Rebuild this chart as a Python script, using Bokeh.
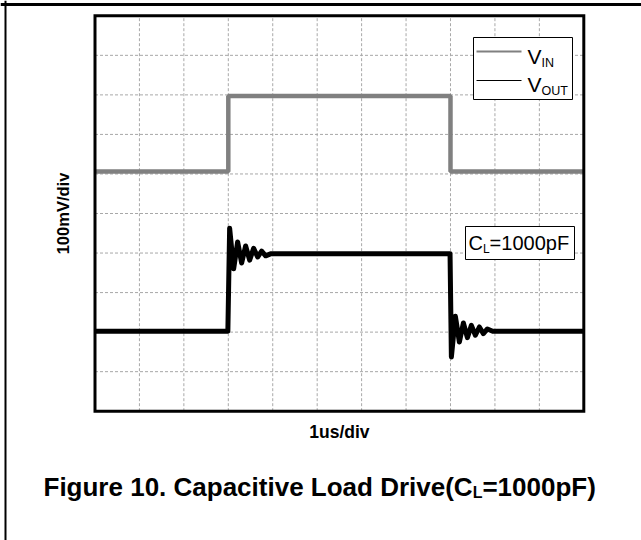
from bokeh.plotting import figure
from bokeh.models import Label, Range1d, Span
from bokeh.embed import file_html
from bokeh.resources import INLINE

# ---------------- data (time in us, voltage in divisions of 100 mV) ----------------
x_grid_ticks = [1, 2, 3, 4, 5, 6, 7, 8, 9, 10]
y_grid_ticks = [1, 2, 3, 4, 5, 6, 7, 8, 9]
x_div = [0, 11]
y_div = [0, 10]

vin_t = [0.0, 3.0, 3.0, 8.0, 8.0, 11.0]
vin_v = [6.06, 6.06, 7.97, 7.97, 6.06, 6.06]

vout_t = [0.0, 2.99, 3.03, 3.12, 3.21, 3.30, 3.39, 3.48, 3.57, 3.66, 3.75, 3.84, 3.95,
          7.99, 8.02, 8.11, 8.20, 8.29, 8.38, 8.47, 8.56, 8.65, 8.74, 8.83, 8.95, 11.0]
vout_v = [2.02, 2.02, 4.63, 3.60, 4.28, 3.75, 4.18, 3.82, 4.12, 3.90, 4.05, 3.93, 3.98,
          3.98, 1.37, 2.40, 1.75, 2.23, 1.86, 2.17, 1.92, 2.13, 1.96, 2.08, 2.02, 2.02]

series_names = ["V", "V"]
series_subs = ["IN", "OUT"]
x_label = "1us/div"
y_label = "100mV/div"
title_pre, title_sub, title_post = "Figure 10. Capacitive Load Drive(C", "L", "=1000pF)"
note_pre, note_sub, note_post = "C", "L", "=1000pF"

# ---------------- layout (page pixels) ----------------
OX, OY = 0, 0                 # canvas origin on the page
W, H = 641, 540
FL, FR, FT, FB = 94.5, 583.3, 15.3, 410.7   # scope frame edges on the page
SX = (FR - FL) / (x_div[1] - x_div[0])
SY = (FB - FT) / (y_div[1] - y_div[0])


def X(px):
    return (px - FL) / SX


def Y(py):
    return (FB - py) / SY


BOLD = {' ': 278, '(': 333, ')': 333, '.': 278, '=': 584, 'C': 722, 'D': 722, 'F': 611,
        'L': 611, 'a': 556, 'c': 556, 'd': 611, 'e': 556, 'g': 611, 'i': 278, 'o': 611,
        'p': 611, 'r': 389, 't': 333, 'u': 611, 'v': 556, 's': 556, 'm': 889, '/': 278, 'V': 667}
REG = {'=': 584, 'C': 722, 'L': 556, 'p': 556, 'F': 611, 'V': 667, 'I': 278, 'N': 722,
       'O': 778, 'U': 722, 'T': 611}


def tw(s, size, bold=False):
    tab = BOLD if bold else REG
    return sum(tab.get(ch, 556) for ch in s) * size / 1000.0


FONT = "Liberation Sans"

p = figure(width=W, height=H, x_range=Range1d(X(OX), X(OX + W)), y_range=Range1d(Y(OY + H), Y(OY)),
           x_axis_location=None, y_axis_location=None, toolbar_location=None,
           output_backend="svg", title=None,
           min_border_left=0, min_border_right=0, min_border_top=0, min_border_bottom=0)
p.background_fill_color = "white"
p.border_fill_color = "white"
p.outline_line_color = None
p.grid.visible = False

# page border lines (top and left)
p.add_layout(Span(location=Y(4), dimension="width", line_color="black", line_width=3))
p.add_layout(Span(location=X(5), dimension="height", line_color="black", line_width=2))

# grid
p.segment(x0=x_grid_ticks, y0=[y_div[0]] * len(x_grid_ticks),
          x1=x_grid_ticks, y1=[y_div[1]] * len(x_grid_ticks),
          line_color="#a8a8a8", line_width=1, line_dash="3 2")
p.segment(x0=[x_div[0]] * len(y_grid_ticks), y0=y_grid_ticks,
          x1=[x_div[1]] * len(y_grid_ticks), y1=y_grid_ticks,
          line_color="#a8a8a8", line_width=1, line_dash="3 2")

# traces
p.line(vin_t, vin_v, line_color="#808080", line_width=4.5)
p.line(vout_t, vout_v, line_color="black", line_width=5, line_join="round")

# scope frame
p.quad(left=[x_div[0]], right=[x_div[1]], bottom=[y_div[0]], top=[y_div[1]],
       fill_color=None, line_color="black", line_width=3, line_join="miter")


def lab(text, px, py, size, bold=False, align="left", angle=0):
    # py is the vertical centre of the text (capital letters)
    p.add_layout(Label(x=X(px), y=Y(py), text=text, text_font=FONT,
                       text_font_size=f"{size}px",
                       text_font_style="bold" if bold else "normal",
                       text_align=align, text_baseline="middle", text_color="black",
                       angle=angle, angle_units="deg"))


# legend box
p.quad(left=[X(473)], right=[X(572)], top=[Y(37)], bottom=[Y(99)],
       fill_color="white", line_color="black", line_width=1)
leg_colors = ["#808080", "black"]
leg_widths = [2, 1]
leg_y = [51, 80]
leg_mid = [56, 84]
for i in range(2):
    p.segment(x0=[X(476)], y0=[Y(leg_y[i])], x1=[X(521)], y1=[Y(leg_y[i])],
              line_color=leg_colors[i], line_width=leg_widths[i])
    lab(series_names[i], 527, leg_mid[i], 21)
    lab(series_subs[i], 527 + tw("V", 21), leg_mid[i] + 6, 12.5)

# C_L note box
p.quad(left=[X(465)], right=[X(574)], top=[Y(226)], bottom=[Y(259)],
       fill_color="white", line_color="black", line_width=1)
nx = 468
lab(note_pre, nx, 242, 20)
lab(note_sub, nx + tw(note_pre, 20), 248, 12)
lab(note_post, nx + tw(note_pre, 20) + tw(note_sub, 12), 242, 20)

# axis texts
lab(y_label, 62, 213, 16.5, bold=True, align="center", angle=90)
lab(x_label, (FL + FR) / 2, 431, 17.5, bold=True, align="center")

# figure caption
ts, ss = 26, 16
tx = 43
lab(title_pre, tx, 486, ts, bold=True)
lab(title_sub, tx + tw(title_pre, ts, True), 492, ss, bold=True)
lab(title_post, tx + tw(title_pre, ts, True) + tw(title_sub, ss, True), 486, ts, bold=True)

open("out.html", "w").write(file_html(p, INLINE))
